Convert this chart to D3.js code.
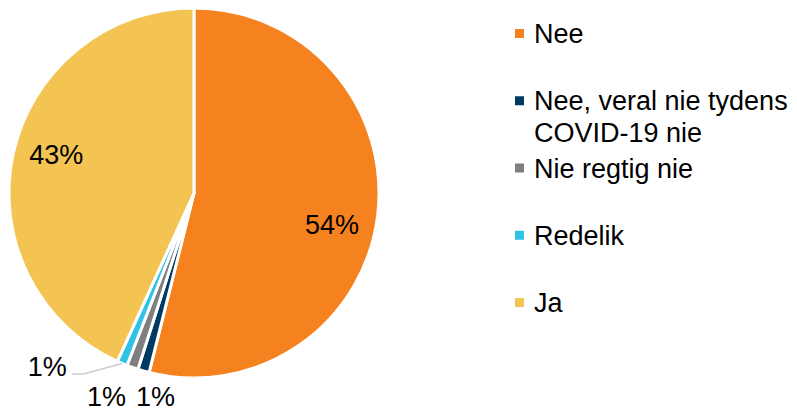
<!DOCTYPE html>
<html>
<head>
<meta charset="utf-8">
<script src="https://cdn.jsdelivr.net/npm/d3@7"></script>
<style>
  body { margin: 0; background: #fff; }
  svg { display: block; font-family: "Liberation Sans", Arial, sans-serif; }
</style>
</head>
<body>
<svg id="chart"></svg>
<script>
// data
const categories = ["Nee", "Nee, veral nie tydens COVID-19 nie", "Nie regtig nie", "Redelik", "Ja"];
const values = [53.9, 1.0, 1.0, 0.9, 43.2];
const valueLabels = ["54%", "1%", "1%", "1%", "43%"];
const colors = ["#f5821f", "#003a63", "#7f7f82", "#2ec3e6", "#f4c453"];

const width = 797, height = 412;
const cx = 194, cy = 193, radius = 185;
const fontSize = 27;

// label placement: which arc radius to use, plus a nudge (like excel's best fit)
const labelLayout = [
    {r: 141, dx: -2, dy: 14},
    {r: 203, dx: 17, dy: 8},
    {r: 203, dx: -20, dy: 12},
    {r: 203, dx: -68, dy: -14, leader: true},
    {r: 141, dx: 0, dy: -9}
];

const svg = d3.select('#chart')
    .attr('width', width)
    .attr('height', height);

const g = svg.append('g')
    .attr('transform', `translate(${cx}, ${cy})`);

const pie = d3.pie().sort(null).value(d => d);
const arcs = pie(values);

const arc = d3.arc().innerRadius(0).outerRadius(radius);

g.selectAll('path.slice')
    .data(arcs)
    .join('path')
    .attr('class', 'slice')
    .attr('d', arc)
    .attr('fill', (d, i) => colors[i])
    .attr('stroke', '#fff')
    .attr('stroke-width', 3)
    .attr('stroke-linejoin', 'round');

// data labels
const labelPos = arcs.map((d, i) => {
    const L = labelLayout[i];
    const c = d3.arc().innerRadius(L.r).outerRadius(L.r).centroid(d);
    return [c[0] + L.dx, c[1] + L.dy];
});

arcs.forEach((d, i) => {
    if (!labelLayout[i].leader) return;
    const edge = d3.arc().innerRadius(radius).outerRadius(radius).centroid(d);
    const p = labelPos[i];
    const textHalf = 19;
    const endX = p[0] + textHalf + 6;
    const pts = [edge, [endX + 11, p[1] + 8], [endX, p[1] + 8]];
    g.append('path')
        .attr('d', d3.line()(pts))
        .attr('fill', 'none')
        .attr('stroke', '#c9cdd2')
        .attr('stroke-width', 1.5);
});

g.selectAll('text.value')
    .data(arcs)
    .join('text')
    .attr('class', 'value')
    .attr('x', (d, i) => labelPos[i][0])
    .attr('y', (d, i) => labelPos[i][1])
    .attr('dy', '0.36em')
    .attr('text-anchor', 'middle')
    .style('font-size', fontSize + 'px')
    .style('fill', '#000')
    .text((d, i) => valueLabels[i]);

// legend
const legendX = 515, legendTop = 43, legendStep = 67.25, lineH = 32, maxW = 270;

const legend = svg.append('g').attr('class', 'legend');

const items = legend.selectAll('g.legend-item')
    .data(categories)
    .join('g')
    .attr('class', 'legend-item')
    .attr('transform', (d, i) => `translate(${legendX}, ${legendTop + i * legendStep})`);

items.append('rect')
    .attr('x', 0)
    .attr('y', -14)
    .attr('width', 9)
    .attr('height', 9)
    .style('fill', (d, i) => colors[i]);

items.append('text')
    .attr('x', 19)
    .attr('y', 0)
    .style('font-size', fontSize + 'px')
    .style('fill', '#000')
    .each(function(d) {
        // simple word wrap
        const text = d3.select(this);
        const words = d.split(' ');
        let line = [];
        let tspan = text.append('tspan').attr('x', 19).attr('dy', 0);
        words.forEach(w => {
            line.push(w);
            tspan.text(line.join(' '));
            if (tspan.node().getComputedTextLength() > maxW && line.length > 1) {
                line.pop();
                tspan.text(line.join(' '));
                line = [w];
                tspan = text.append('tspan').attr('x', 19).attr('dy', lineH).text(w);
            }
        });
    });
</script>
</body>
</html>
